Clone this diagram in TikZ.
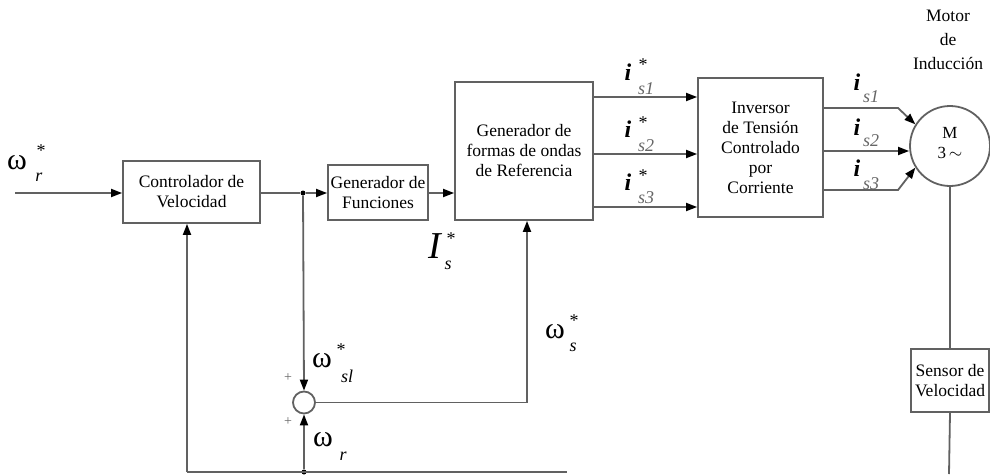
\documentclass[tikz,border=0pt]{standalone}
\usepackage{fontspec}
\setmainfont{Liberation Serif}
\usetikzlibrary{arrows.meta}
\begin{document}
\begin{tikzpicture}[x=1pt,y=-1pt,
  line/.style={draw=black!62, line width=1.8pt},
  arr/.style={line, -{Triangle[length=11pt,width=8pt,color=black]}},
  blk/.style={draw=black!62, line width=1.8pt, inner sep=0pt, align=center, font=\fontsize{17.5}{20}\selectfont},
  lbl/.style={inner sep=0pt, anchor=center},
  om/.style={lbl, font=\fontsize{30}{30}\selectfont},
  st/.style={lbl, font=\fontsize{18}{18}\selectfont},
  sub/.style={lbl, font=\fontsize{18}{18}\selectfont\itshape},
  gsub/.style={sub, text=black!60},
  ib/.style={lbl, font=\fontsize{24}{24}\selectfont\bfseries\itshape},
  pl/.style={lbl, font=\fontsize{14}{14}\selectfont, text=black!60},
  jdot/.style={circle, fill=black, inner sep=0pt, minimum size=5pt}
]
\useasboundingbox (0,0) rectangle (990,474);

% blocks
\node[blk, minimum width=137pt, minimum height=62pt] (ctrl) at (191.5,192) {Controlador de\\Velocidad};
\node[blk, minimum width=100pt, minimum height=55pt] (gf) at (378,192.5) {Generador de\\Funciones};
\node[blk, minimum width=138pt, minimum height=138pt] (gw) at (524,151) {Generador de\\formas de ondas\\de Referencia};
\node[blk, minimum width=125pt, minimum height=139pt] (inv) at (760.5,147.5) {Inversor\\de Tensión\\Controlado\\por\\Corriente};
\node[draw=black!62, line width=1.8pt, circle, minimum size=80pt, inner sep=0pt] (mot) at (950,146) {};
\node[lbl, font=\fontsize{17}{17}\selectfont] (mtxt) at (950,133) {M};
\node[lbl, font=\fontsize{17}{17}\selectfont] (m3) at (950,153) {3\,$\sim$};
\node[lbl, align=center, font=\fontsize{17.5}{24}\selectfont] (mlab) at (948,40) {Motor\\de\\Inducción};
\node[blk, minimum width=78pt, minimum height=63pt] (sens) at (950,380.5) {Sensor de\\Velocidad};
\node[draw=black!62, line width=1.8pt, circle, minimum size=22pt, inner sep=0pt] (sum) at (304,402.5) {};

% junctions and helper coordinates
\node[jdot] (j1) at (303,193) {};
\node[jdot] (j2) at (304,472) {};
\coordinate (in) at (15,193);
\coordinate (fbL) at (187,472);
\coordinate (fbR) at (567,472);
\coordinate (c5) at (527,402.5);
\coordinate (sb) at (949,474);
\coordinate (y1) at (0,97);
\coordinate (y2) at (0,154);
\coordinate (y3) at (0,207);
\coordinate (y4) at (0,108);
\coordinate (y5) at (0,151);
\coordinate (y6) at (0,190);
\coordinate (k1) at (898,108);
\coordinate (k3) at (898,190);

% connectors
\draw[arr] (in) -- (ctrl.west |- in);
\draw[line] (ctrl.east |- j1) -- (j1);
\draw[arr] (j1) -- (gf.west |- j1);
\draw[arr] (gf.east |- j1) -- (gw.west |- j1);
\draw[arr] (j1) -- (sum.north);
\draw[arr] (j2) -- (sum.south);
\draw[line] (fbL) -- (fbR);
\draw[arr] (fbL) -- (fbL |- ctrl.south);
\draw[arr] (sum.east) -- (c5) -- (c5 |- gw.south);
\draw[arr] (gw.east |- y1) -- (inv.west |- y1);
\draw[arr] (gw.east |- y2) -- (inv.west |- y2);
\draw[arr] (gw.east |- y3) -- (inv.west |- y3);
\draw[arr] (inv.east |- y4) -- (k1) -- (mot.148);
\draw[arr] (inv.east |- y5) -- (910.5,151 -| mot.west);
\draw[arr] (inv.east |- y6) -- (k3) -- (mot.212);
\draw[line] (mot.south) -- (sens.north);
\draw[line] (sens.south) -- (sb);

% labels
\node[om] (wr) at (17,163) {ω};
\node[st] (wrs) at (41,151) {*};
\node[sub] (wrr) at (39,177) {r};

\node[lbl, font=\fontsize{38}{38}\selectfont\itshape] (Is) at (435,246) {I};
\node[st] (Iss) at (451,239) {*};
\node[sub] (Isb) at (448,265) {s};

\node[om] (wsl) at (322,361) {ω};
\node[st] (wsls) at (341,350) {*};
\node[sub] (wslb) at (347,376) {sl};
\node[om] (wrf) at (323,440) {ω};
\node[sub] (wrfb) at (343,456) {r};
\node[pl] (p1) at (288,378) {+};
\node[pl] (p2) at (288,422) {+};

\node[om] (ws) at (555,332) {ω};
\node[st] (wss) at (574,321) {*};
\node[sub] (wsb) at (573,347) {s};

\node[ib] (i1) at (628,72) {i};
\node[st] (i1s) at (643,65) {*};
\node[gsub] (i1b) at (646,89) {s1};
\node[ib] (i2) at (628,129) {i};
\node[st] (i2s) at (643,123) {*};
\node[gsub] (i2b) at (646,146) {s2};
\node[ib] (i3) at (628,182) {i};
\node[st] (i3s) at (643,176) {*};
\node[gsub] (i3b) at (646,198) {s3};

\node[ib] (o1) at (857,82) {i};
\node[gsub] (o1b) at (871,97) {s1};
\node[ib] (o2) at (857,127) {i};
\node[gsub] (o2b) at (871,141) {s2};
\node[ib] (o3) at (857,168) {i};
\node[gsub] (o3b) at (871,184) {s3};
\end{tikzpicture}
\end{document}
